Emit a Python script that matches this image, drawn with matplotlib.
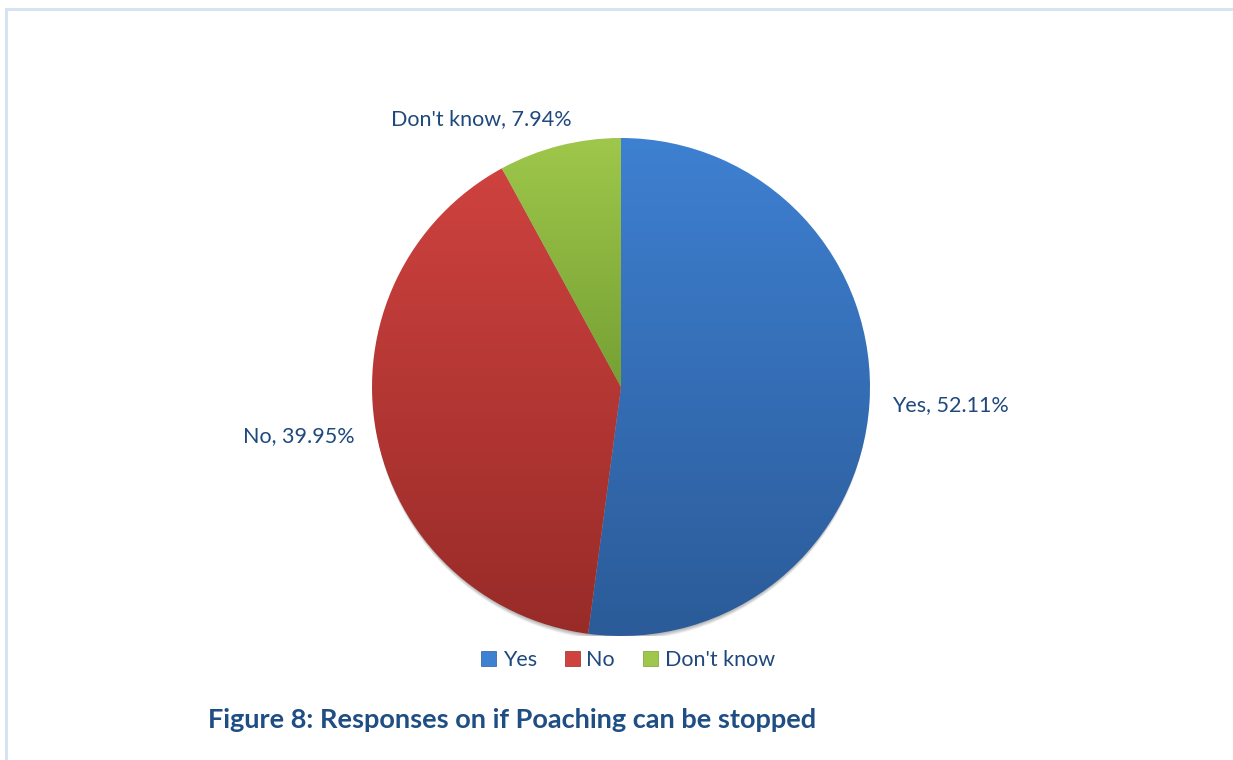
import matplotlib
matplotlib.use("Agg")
import matplotlib.pyplot as plt
import matplotlib.patches as mpatches
from matplotlib.colors import LinearSegmentedColormap
import numpy as np

categories = ["Yes", "No", "Don't know"]
shares = [52.11, 39.95, 7.94]
top_colors = ["#3e80d1", "#ce423f", "#9ec74b"]
bottom_colors = ["#2b5b98", "#982b28", "#76a033"]
label_color = "#1f497d"

plt.rcParams["font.family"] = ["Lato", "DejaVu Sans"]

fig = plt.figure(figsize=(12.33, 7.6), dpi=100)

# light chart border (cut off at the right and bottom like the reference)
border = mpatches.Rectangle((6 / 1233, -0.1), 1.2, 1 - 9.5 / 760 + 0.1,
                            transform=fig.transFigure, fill=False,
                            edgecolor="#d8e3f2", linewidth=2.2)
fig.patches.append(border)

ax = fig.add_axes([372 / 1233, 124 / 760, 498 / 1233, 498 / 760])
ax.set_xlim(-1, 1)
ax.set_ylim(-1, 1)
ax.set_aspect("equal")
ax.axis("off")

# soft shadow under the pie, mostly at the bottom
for i in range(8):
    sh = mpatches.Circle((0, -0.008 - i * 0.0022), 0.995,
                         facecolor="black", edgecolor="none",
                         alpha=0.04, zorder=0)
    ax.add_patch(sh)

labels = [f"{c}, {s:.2f}%" for c, s in zip(categories, shares)]
wedges, texts = ax.pie(shares, labels=labels, startangle=90,
                       counterclock=False, labeldistance=1.09,
                       radius=1.0, wedgeprops=dict(linewidth=0),
                       textprops=dict(fontsize=15.5, color=label_color))
ax.set_xlim(-1, 1)
ax.set_ylim(-1, 1)

# vertical gradient fill for each wedge
grad = np.linspace(0, 1, 256).reshape(-1, 1)
for w, c0, c1 in zip(wedges, top_colors, bottom_colors):
    verts = w.get_path().vertices
    verts = w.get_patch_transform().transform(verts)
    ymin, ymax = verts[:, 1].min(), verts[:, 1].max()
    xmin, xmax = verts[:, 0].min(), verts[:, 0].max()
    cmap = LinearSegmentedColormap.from_list("g", [c0, c1])
    im = ax.imshow(grad, cmap=cmap, extent=[xmin, xmax, ymin, ymax],
                   origin="upper", aspect="auto", zorder=2)
    im.set_clip_path(w)
    w.set_facecolor("none")
ax.set_xlim(-1, 1)
ax.set_ylim(-1, 1)

# nudge the small slice label, like Excel's placement
tx, ty = texts[2].get_position()
texts[2].set_position((tx + 0.07, ty + 0.02))

handles = [mpatches.Patch(facecolor=c0, edgecolor=c1, linewidth=0.5)
           for c0, c1 in zip(top_colors, bottom_colors)]
fig.legend(handles, categories, loc="center", ncol=3,
           bbox_to_anchor=(628 / 1233, 1 - 660 / 760), frameon=False,
           fontsize=15.5, labelcolor=label_color, handlelength=0.7,
           handleheight=0.7, handletextpad=0.3, columnspacing=1.3)

fig.text(208 / 1233, 1 - 720 / 760,
         "Figure 8: Responses on if Poaching can be stopped",
         fontsize=19.5, fontweight="bold", color="#1f4e84",
         ha="left", va="center")

plt.savefig("out.png", dpi=100)
plt.close()
